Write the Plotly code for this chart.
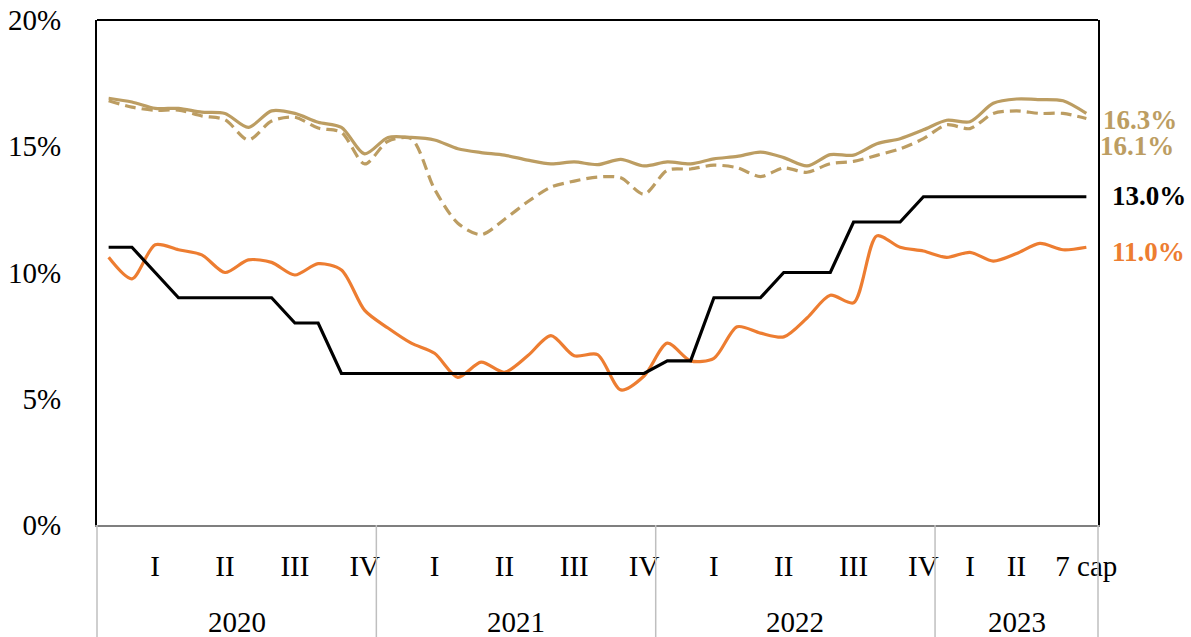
import plotly.graph_objects as go

months = list(range(43))

policy_rate = [11, 11, 10, 9, 9, 9, 9, 9, 8, 8,
               6, 6, 6, 6, 6, 6, 6, 6, 6, 6, 6, 6, 6, 6,
               6.5, 6.5, 9, 9, 9, 10, 10, 10, 12, 12, 12,
               13, 13, 13, 13, 13, 13, 13, 13]

inflation = [10.6, 9.75, 11.1, 10.9, 10.7, 10.0, 10.5, 10.4, 9.9, 10.35,
             10.1, 8.5, 7.8, 7.2, 6.8, 5.85, 6.45, 6.05, 6.7, 7.5,
             6.7, 6.75, 5.35, 5.9, 7.2, 6.5, 6.6, 7.85, 7.6, 7.45,
             8.2, 9.1, 8.8, 11.45, 11.0, 10.85, 10.6, 10.8, 10.45, 10.75,
             11.15, 10.9, 11.0]

rate_solid = [16.9, 16.75, 16.5, 16.5, 16.35, 16.3, 15.75, 16.4, 16.3, 15.95,
              15.75, 14.7, 15.35, 15.35, 15.25, 14.9, 14.75, 14.65, 14.45, 14.3,
              14.38, 14.27, 14.48, 14.22, 14.38, 14.3, 14.5, 14.6, 14.77, 14.55,
              14.22, 14.67, 14.65, 15.1, 15.3, 15.65, 16.03, 15.97, 16.7, 16.87,
              16.85, 16.8, 16.3]

rate_dashed = [16.8, 16.55, 16.42, 16.43, 16.2, 16.05, 15.25, 16.0, 16.15, 15.72,
               15.55, 14.3, 15.2, 15.3, 13.3, 11.95, 11.5, 12.1, 12.8, 13.38,
               13.62, 13.78, 13.75, 13.1, 14.05, 14.1, 14.25, 14.15, 13.8, 14.14,
               13.97, 14.31, 14.4, 14.64, 14.9, 15.3, 15.85, 15.7, 16.3, 16.4,
               16.3, 16.3, 16.1]

quarter_pos = [2, 5, 8, 11, 14, 17, 20, 23, 26, 29, 32, 35, 37, 39, 42]
quarter_text = ["I", "II", "III", "IV", "I", "II", "III", "IV",
                "I", "II", "III", "IV", "I", "II", "7 cap"]
years = ["2020", "2021", "2022", "2023"]
year_bounds = [-0.5, 11.5, 23.5, 35.5, 42.5]

TAN = "#BC9D62"
ORANGE = "#ED7D31"
FONT = "Liberation Serif"

fig = go.Figure()
fig.add_trace(go.Scatter(x=months, y=rate_dashed, mode="lines",
                         line=dict(color=TAN, width=3.2, dash="11px,6px", shape="spline", smoothing=0.8)))
fig.add_trace(go.Scatter(x=months, y=rate_solid, mode="lines",
                         line=dict(color=TAN, width=3.2, shape="spline", smoothing=0.8)))
fig.add_trace(go.Scatter(x=months, y=inflation, mode="lines",
                         line=dict(color=ORANGE, width=3.2, shape="spline", smoothing=0.8)))
fig.add_trace(go.Scatter(x=months, y=policy_rate, mode="lines",
                         line=dict(color="black", width=3.2)))

xmin, xmax = year_bounds[0], year_bounds[-1]
span = xmax - xmin

shapes = []
for b in year_bounds:
    px = (b - xmin) / span
    shapes.append(dict(type="line", xref="paper", yref="paper", x0=px, x1=px,
                       y0=0, y1=-0.23, line=dict(color="#BFBFBF", width=1.5)))
shapes.append(dict(type="line", xref="paper", yref="paper", x0=0, x1=1, y0=1, y1=1,
                   line=dict(color="black", width=2)))

annotations = []
for i, yr in enumerate(years):
    mid = ((year_bounds[i] + year_bounds[i + 1]) / 2 - xmin) / span
    annotations.append(dict(text=yr, xref="paper", yref="paper", x=mid, y=-0.192,
                            xanchor="center", yanchor="middle", showarrow=False,
                            font=dict(family=FONT, size=29, color="black")))

labels = [(f"{rate_solid[-1]:.1f}%", rate_solid[-1], TAN, 3, -7),
          (f"{rate_dashed[-1]:.1f}%", rate_dashed[-1], TAN, 0, -28),
          (f"{policy_rate[-1]:.1f}%", policy_rate[-1], "black", 12, 1),
          (f"{inflation[-1]:.1f}%", inflation[-1], ORANGE, 12, -5)]
for txt, yv, col, xs, ys in labels:
    annotations.append(dict(text=f"<b>{txt}</b>", xref="paper", yref="y", x=1, y=yv,
                            xanchor="left", yanchor="middle", xshift=xs, yshift=ys,
                            showarrow=False, font=dict(family=FONT, size=27, color=col)))

fig.update_layout(
    width=1191, height=637,
    margin=dict(l=97, r=93, t=20, b=112, pad=0),
    paper_bgcolor="white", plot_bgcolor="white",
    showlegend=False,
    font=dict(family=FONT, size=29, color="black"),
    xaxis=dict(range=[xmin, xmax], tickmode="array", tickvals=quarter_pos,
               ticktext=quarter_text, showgrid=False, zeroline=False,
               showline=True, linecolor="#7F7F7F", linewidth=2, mirror=False,
               ticks="", ticklabelstandoff=14, automargin=False,
               tickfont=dict(family=FONT, size=29, color="black")),
    yaxis=dict(range=[0, 20], tickvals=[0, 5, 10, 15, 20],
               ticktext=["0%", "5%", "10%", "15%", "20%"],
               showgrid=False, zeroline=False, showline=True, linecolor="black",
               linewidth=2, mirror=True, ticks="", ticklabelstandoff=28,
               automargin=False,
               tickfont=dict(family=FONT, size=29, color="black")),
    shapes=shapes,
    annotations=annotations,
)

fig.write_html("out.html", config={"displayModeBar": False},
               post_script="document.body.style.margin='0';document.body.style.padding='0';")
